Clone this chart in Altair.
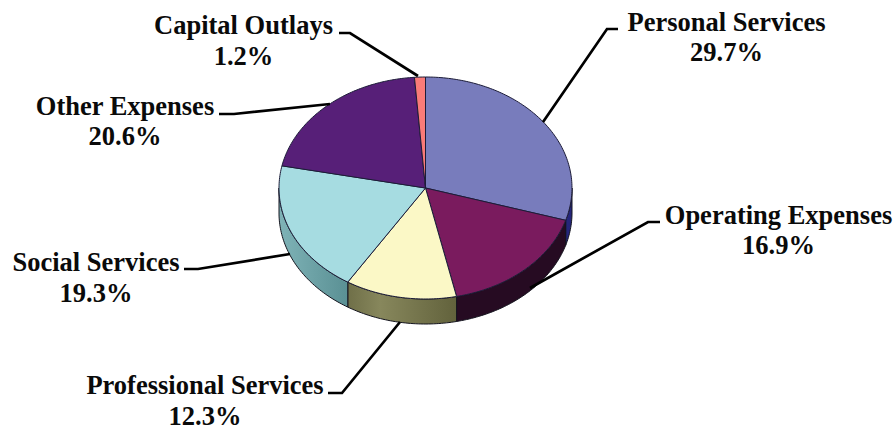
import math
import altair as alt
import pandas as pd

categories = ["Personal Services", "Operating Expenses", "Professional Services",
              "Social Services", "Other Expenses", "Capital Outlays"]
shares = [29.7, 16.9, 12.3, 19.3, 20.6, 1.2]

top_colors = ["#787cbc", "#7a1b5e", "#fbf8c6", "#a6dce1", "#571f78", "#f97b78"]
side_fills = [
    "#25267a",
    "#260b22",
    alt.LinearGradient(gradient="linear",
                       stops=[alt.GradientStop(color="#6f6f48", offset=0),
                              alt.GradientStop(color="#87875c", offset=0.3),
                              alt.GradientStop(color="#62623c", offset=1)],
                       x1=0, x2=1, y1=0, y2=0),
    alt.LinearGradient(gradient="linear",
                       stops=[alt.GradientStop(color="#7fb3b7", offset=0),
                              alt.GradientStop(color="#5a9094", offset=1)],
                       x1=0, x2=1, y1=0, y2=0),
]

# Tilted disc: ellipse centre, radii and rim depth, in page pixels
CX, CY, RX, RY, DEPTH = 425.5, 188.0, 146.5, 111.0, 25.0

W, H = 895, 431
x_scale = alt.Scale(domain=[0, W], range=[0, W])
y_scale = alt.Scale(domain=[0, H], range=[0, H])
x_enc = alt.X("x:Q", scale=x_scale, axis=None)
y_enc = alt.Y("y:Q", scale=y_scale, axis=None)


def rim_point(deg, drop=0.0):
    a = math.radians(deg)
    return CX + RX * math.sin(a), CY - RY * math.cos(a) + drop


def arc_degrees(start, end):
    n = max(2, int(abs(end - start)) + 1)
    return [start + (end - start) * i / (n - 1) for i in range(n)]


def polygon(points, **style):
    frame = pd.DataFrame(points, columns=["x", "y"]).assign(i=range(len(points)))
    return alt.Chart(frame).mark_line(interpolate="linear-closed", clip=False, **style).encode(
        x=x_enc, y=y_enc, order="i:Q"
    )


layers = []
starts = []
total = 0.0
for s in shares:
    starts.append(total)
    total += s

# Rim segments: only the part of each slice facing the viewer (90 to 270 degrees)
for i, s in enumerate(shares):
    lo = max(starts[i] * 3.6, 90)
    hi = min((starts[i] + s) * 3.6, 270)
    if hi <= lo:
        continue
    degs = arc_degrees(lo, hi)
    pts = [rim_point(d) for d in degs] + [rim_point(d, DEPTH) for d in reversed(degs)]
    layers.append(polygon(pts, fill=side_fills[i], stroke="#14141e", strokeWidth=1))

# Top faces of the slices
for i, s in enumerate(shares):
    degs = arc_degrees(starts[i] * 3.6, (starts[i] + s) * 3.6)
    pts = [(CX, CY)] + [rim_point(d) for d in degs]
    layers.append(polygon(pts, fill=top_colors[i], stroke="#1c1c38", strokeWidth=1))

# Leader lines, one polyline per label
leaders = {
    "Personal Services": [(618, 29), (607, 29), (543, 122)],
    "Operating Expenses": [(660, 222), (648, 222), (530, 288)],
    "Professional Services": [(328, 393), (342, 393), (400, 322)],
    "Social Services": [(184, 269), (198, 269), (290, 254)],
    "Other Expenses": [(219, 114), (234, 114), (330, 104)],
    "Capital Outlays": [(339, 33), (350, 33), (418, 76)],
}
for name, path in leaders.items():
    frame = pd.DataFrame(path, columns=["x", "y"]).assign(i=range(len(path)))
    layers.append(alt.Chart(frame).mark_line(color="black", strokeWidth=2.7, clip=False).encode(
        x=x_enc, y=y_enc, order="i:Q"))

# Two-line labels: name above, share below
anchors = {
    "Personal Services": (726.5, 31, 60.5),
    "Operating Expenses": (778.5, 223.5, 253.5),
    "Professional Services": (205, 393.5, 425),
    "Social Services": (96, 271, 301.5),
    "Other Expenses": (125, 115, 145),
    "Capital Outlays": (243.5, 34, 64.5),
}
rows = []
for name, s in zip(categories, shares):
    ax, y1, y2 = anchors[name]
    rows.append({"x": ax, "y": y1, "label": name})
    rows.append({"x": ax, "y": y2, "label": f"{s:.1f}%"})
layers.append(alt.Chart(pd.DataFrame(rows)).mark_text(
    font="Liberation Serif", fontWeight="bold", fontSize=26.5, color="#0a0a0a",
    align="center", baseline="alphabetic", clip=False
).encode(x=x_enc, y=y_enc, text="label:N"))

chart = alt.layer(*layers).properties(
    width=W, height=H, padding=0, background="white",
    autosize=alt.AutoSizeParams(type="none")
).configure_view(stroke=None)

chart.save("out.html", embed_options={"renderer": "svg", "actions": False})
